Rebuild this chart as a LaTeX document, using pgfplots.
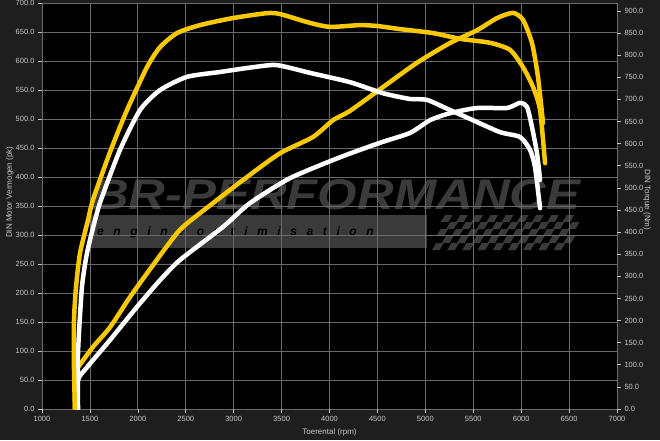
\documentclass[border=0pt]{standalone}
\usepackage{pgfplots}
\usepackage{pgfplotstable}
\pgfplotsset{compat=1.18}
\usepackage{fontspec}
\setmainfont{Liberation Sans}

\definecolor{bg}{HTML}{1E1E1E}
\definecolor{tk}{HTML}{C8C8C8}
\definecolor{gridc}{HTML}{6A6A6A}
\definecolor{ylw}{HTML}{F8C800}
\definecolor{wm}{HTML}{3A3A3A}

% power (pk), left axis
\pgfplotstableread{
rpm pk
1344 0
1344 67
1376 72
1532 107
1710 141
1918 193
2158 248
2440 309
2784 355
3139 400
3484 441
3828 469
4037 498
4214 514
4558 555
4913 597
5257 631
5539 653
5748 674
5915 683
6019 671
6113 631
6176 572
6228 493
}\yellowpower

\pgfplotstableread{
rpm pk
1365 0
1376 50
1470 72
1710 119
1991 176
2231 222
2440 257
2889 314
3170 355
3588 398
4110 434
4527 459
4840 476
5049 498
5257 510
5539 519
5852 519
5988 528
6061 521
6113 486
6165 441
6197 395
}\whitepower

% torque (Nm), right axis
\pgfplotstableread{
rpm nm
1344 0
1334 88
1334 201
1355 276
1397 353
1480 427
1532 473
1710 581
1887 676
2096 773
2231 818
2409 850
2649 868
2993 884
3348 895
3484 893
3797 873
4005 864
4318 868
4496 866
4736 859
5080 850
5362 837
5675 828
5884 812
6019 773
6124 728
6197 676
6249 556
}\yellowtorque

\pgfplotstableread{
rpm nm
1376 0
1376 127
1417 276
1470 353
1553 427
1616 473
1814 586
2023 676
2231 721
2513 751
2857 762
3139 771
3410 778
3557 773
3797 760
4214 739
4558 714
4840 701
5017 699
5257 676
5497 653
5779 626
5988 615
6092 586
6144 547
6197 454
}\whitetorque

\pgfplotsset{
  dyno/.style={
    at={(42pt,31pt)}, anchor=south west,
    width=575pt, height=406pt, scale only axis,
    xmin=1000, xmax=7000,
    tick align=outside, major tick length=4pt,
    tick style={tk, line width=0.6pt},
    ticklabel style={tk, font=\fontsize{7.5}{8}\selectfont},
    /pgf/number format/assume math mode=true,
    axis line style={draw=none},
  },
  curve/.style={line width=4.5pt, line join=round, line cap=round, smooth, tension=0.4},
}

\begin{document}
\begin{tikzpicture}
\fill[bg] (0,0) rectangle (660pt,440pt);
\path[use as bounding box] (0,0) rectangle (660pt,440pt);
\fill[black] (42pt,31pt) rectangle (617pt,437pt);

% watermark
\begin{scope}[x=1pt,y=1pt]
  \fill[wm] (90,192) rectangle (427,225);
  \node[anchor=south west, inner sep=0pt, text=wm] at (92,230)
    {\resizebox{488pt}{30pt}{\bfseries\itshape BR-PERFORMANCE}};
  \node[anchor=west, inner sep=0pt, text=black, font=\fontsize{12}{12}\selectfont\bfseries\itshape\addfontfeatures{LetterSpace=80}]
    at (97,208) {engine optimisation};
  \begin{scope}[shift={(432,190)}, xslant=0.6]
    \foreach \i in {0,...,17} {
      \foreach \j in {0,...,4} {
        \pgfmathtruncatemacro{\p}{mod(\i+\j,2)}
        \ifnum\p=0
          \fill[wm] (\i*7.6-\j*2, \j*7) rectangle ++(7.6,7);
        \fi
      }
    }
  \end{scope}
\end{scope}

\begin{axis}[
  dyno,
  ymin=0, ymax=700,
  xtick distance=500, ytick distance=50,
  xtick pos=lower, ytick pos=left,
  grid=major, major grid style={gridc, line width=0.8pt},
  yticklabel style={/pgf/number format/fixed, /pgf/number format/fixed zerofill, /pgf/number format/precision=1},
  xticklabel style={/pgf/number format/1000 sep={}},
  xlabel={Toerental (rpm)},
  xlabel style={tk, font=\fontsize{8}{9}\selectfont, at={(axis description cs:0.5,-0.057)}, anchor=center},
  ylabel={DIN Motor Vermogen (pk)},
  ylabel style={tk, font=\fontsize{8}{9}\selectfont, at={(axis description cs:-0.056,0.534)}, anchor=center},
]
  \addplot[curve, white] table[x=rpm, y=pk] {\whitepower};
  \addplot[curve, ylw] table[x=rpm, y=pk] {\yellowpower};
\end{axis}

\begin{axis}[
  dyno,
  ymin=0, ymax=918,
  ytick distance=50,
  axis x line=none, axis y line*=right,
  yticklabel style={/pgf/number format/fixed, /pgf/number format/fixed zerofill, /pgf/number format/precision=1},
  ylabel={DIN Torque (Nm)},
  ylabel style={tk, font=\fontsize{8}{9}\selectfont, at={(axis description cs:1.052,0.515)}, anchor=center, rotate=180},
]
  \addplot[curve, white] table[x=rpm, y=nm] {\whitetorque};
  \addplot[curve, ylw] table[x=rpm, y=nm] {\yellowtorque};
\end{axis}
\end{tikzpicture}
\end{document}
